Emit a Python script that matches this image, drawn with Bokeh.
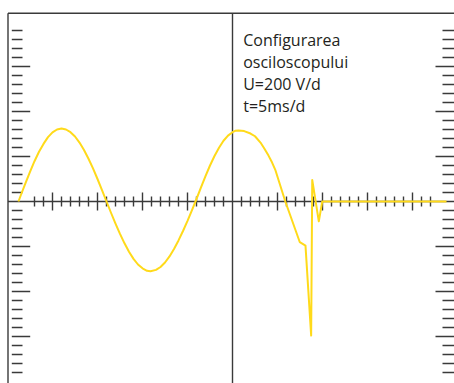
from bokeh.plotting import figure
from bokeh.models import Range1d
from bokeh.embed import file_html
from bokeh.resources import INLINE
from bokeh.core.properties import value

# ---- data : time in ms, voltage in V ----
time_ms = [1.22, 1.5, 2.0, 2.5, 3.0, 3.5, 4.0, 4.5, 5.0, 5.5, 6.0,
           6.5, 7.0, 7.5, 8.0, 8.5, 9.0, 9.5, 10.0, 10.5, 11.0,
           11.5, 12.0, 12.5, 13.0, 13.5, 14.0, 14.5, 15.0, 15.5, 15.89,
           16.5, 17.0, 17.5, 18.0, 18.5, 19.0, 19.5, 20.0, 20.5, 20.89,
           21.5, 22.0, 22.5, 23.0, 23.5, 24.0, 24.5, 25.0, 25.3, 25.67,
           26.3, 27.0, 27.5, 28.11, 28.5, 29.0, 29.4, 29.78, 30.87,
           32.48, 33.11, 33.74, 33.86, 34.59, 34.97, 48.78]
volts = [0, 30, 82, 132, 179, 221, 256, 286, 307, 320, 324,
         320, 308, 289, 262, 229, 190, 147, 100, 51, 0,
         -50, -98, -144, -186, -223, -255, -280, -297, -308, -310,
         -304, -291, -271, -244, -211, -173, -131, -86, -38, 0,
         63, 113, 160, 202, 239, 270, 293, 308, 314, 316,
         313, 302, 290, 262, 238, 204, 173, 138, 0,
         -181, -196, -596, 96, -88, 0, 0]

labels = ["Configurarea", "osciloscopului", "U=200 V/d", "t=5ms/d"]

VOLT_PER_DIV = 200
MS_PER_DIV = 5
MINOR = 5  # minor ticks per division
CENTER_T = 25

# ---- figure ----
PX_T = 1.0 / 9      # ms per pixel
PX_V = 40.0 / 9     # V per pixel
W, H = 454, 383
CX, CY = 232, 201   # pixel position of the graticule centre
x0 = CENTER_T - CX * PX_T
y_top = CY * PX_V
p = figure(width=W, height=H, output_backend="svg", toolbar_location=None,
           x_range=Range1d(x0, x0 + W * PX_T),
           y_range=Range1d(y_top - H * PX_V, y_top),
           x_axis_location=None, y_axis_location=None,
           min_border=0, min_border_left=0, min_border_right=0,
           min_border_top=0, min_border_bottom=0)
p.grid.visible = False
p.outline_line_color = None
p.background_fill_color = "white"


def tx(px):
    return x0 + px * PX_T


def vy(py):
    return y_top - py * PX_V


dark = "#3a3a3a"
lw = 1.4
t_min = tx(7.5)
top_v = vy(12.7)
bot_v = vy(H + 20)
right_t = tx(W + 5)

# frame lines
p.segment(x0=[t_min, t_min, CENTER_T, t_min], y0=[top_v, top_v, top_v, 0],
          x1=[right_t, t_min, CENTER_T, right_t], y1=[top_v, bot_v, bot_v, 0],
          line_color=dark, line_width=lw)

# horizontal-axis ticks (every 1 ms)
step_t = MS_PER_DIV / MINOR
hx, hy0, hy1 = [], [], []
for k in range(-22, 23):
    if k == 0:
        continue
    t = CENTER_T + k * step_t
    ln = 9 if k % MINOR == 0 else 5
    hx.append(t); hy0.append(-ln * PX_V); hy1.append(ln * PX_V)
p.segment(x0=hx, y0=hy0, x1=hx, y1=hy1, line_color=dark, line_width=lw)

# side ticks (every 40 V)
step_v = VOLT_PER_DIV / MINOR
sx0, sx1, sy = [], [], []
for k in range(-19, 20):
    if k == 0:
        continue
    v = k * step_v
    long_ = k % MINOR == 0
    sx0.append(tx(11.3)); sx1.append(tx(29.7 if long_ else 22)); sy.append(v)
    sx0.append(tx(435 if long_ else 442)); sx1.append(right_t); sy.append(v)
p.segment(x0=sx0, y0=sy, x1=sx1, y1=sy, line_color=dark, line_width=lw)

# waveform
p.line(time_ms, volts, line_color="#FFDA1A", line_width=2, line_join="round")

# label text
lx = [tx(242.7)] * 4
ly = [vy(b) for b in (39, 61, 83.3, 105)]
p.text(x=lx, y=ly, text=labels, text_font=value("Open Sans"),
       text_font_size="16px", text_color="#231F20",
       text_baseline="alphabetic", text_align="left")

open("out.html", "w").write(file_html(p, INLINE))
